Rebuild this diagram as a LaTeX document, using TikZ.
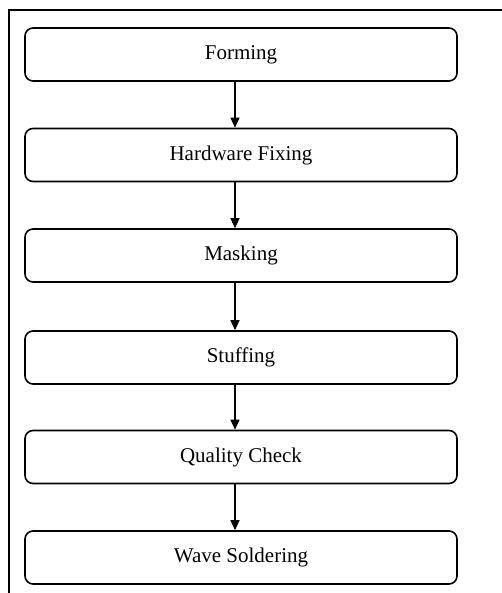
\documentclass[tikz,border=0pt]{standalone}
\usepackage{fontspec}
\setmainfont{Liberation Serif}
\usetikzlibrary{arrows.meta}

\tikzset{
  stagebox/.style={draw=black, line width=0.8pt, rounded corners=4pt,
    minimum width=216pt, minimum height=26.5pt, inner sep=0pt,
    font=\fontsize{10.5}{12}\selectfont},
  flowarrow/.style={line width=0.7pt, -{Triangle[length=5pt, width=4.5pt]}}
}

\begin{document}
\begin{tikzpicture}[x=0.5pt,y=-0.5pt]
\useasboundingbox (0,0) rectangle (502,593);
\draw[line width=1pt] (8,10) -- (502,10);
\draw[line width=1pt] (9,10) -- (9,593);
\node[stagebox] (forming) at (241,54.5) {Forming};
\node[stagebox] (fixing) at (241,155) {Hardware Fixing};
\node[stagebox] (masking) at (241,255.5) {Masking};
\node[stagebox] (stuffing) at (241,357.5) {Stuffing};
\node[stagebox] (check) at (241,457) {Quality Check};
\node[stagebox] (soldering) at (241,557.5) {Wave Soldering};
\draw[flowarrow] ([xshift=-3pt]forming.south) -- ([xshift=-3pt]fixing.north);
\draw[flowarrow] ([xshift=-3pt]fixing.south) -- ([xshift=-3pt]masking.north);
\draw[flowarrow] ([xshift=-3pt]masking.south) -- ([xshift=-3pt]stuffing.north);
\draw[flowarrow] ([xshift=-3pt]stuffing.south) -- ([xshift=-3pt]check.north);
\draw[flowarrow] ([xshift=-3pt]check.south) -- ([xshift=-3pt]soldering.north);
\end{tikzpicture}
\end{document}
